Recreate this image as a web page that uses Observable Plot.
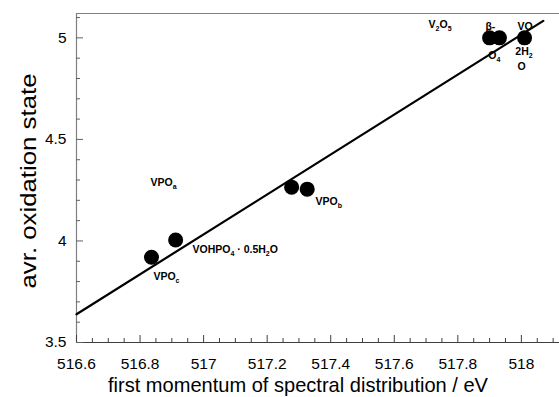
<!DOCTYPE html>
<html><head><meta charset="utf-8">
<script src="https://cdn.jsdelivr.net/npm/d3@7"></script>
<script src="https://cdn.jsdelivr.net/npm/@observablehq/plot@0.6"></script>
<style>
body{margin:0;background:#fff}
#chart svg{font-family:"Liberation Sans",Arial,sans-serif;background:#fff}
</style>
</head><body><div id="chart"></div>
<script>
// measured points
const pointX = [516.836, 516.912, 517.277, 517.326, 517.900, 517.931, 518.010];
const pointY = [3.92, 4.005, 4.265, 4.255, 5.0, 5.0, 5.0];
// linear fit line end points
const fitX = [516.6, 518.069];
const fitY = [3.639, 5.084];
// annotations
const labelText = ["V_2O_5", "β-", "O_4", "VO", "2H_2", "O", "VPO_a", "VPO_b", "VOHPO_4 · 0.5H_2O", "VPO_c"];
const labelX = [517.708, 517.887, 517.896, 517.988, 517.981, 517.988, 516.833, 517.352, 516.965, 516.842];
const labelY = [5.064, 5.054, 4.911, 5.054, 4.931, 4.856, 4.287, 4.193, 3.955, 3.822];
// axes
const xDomain = [516.6, 518.12];
const yDomain = [3.5, 5.12];
const xTicks = [516.6, 516.8, 517, 517.2, 517.4, 517.6, 517.8, 518];
const xMinor = [516.65,516.7,516.75,516.85,516.9,516.95,517.05,517.1,517.15,517.25,517.3,517.35,517.45,517.5,517.55,517.65,517.7,517.75,517.85,517.9,517.95,518.05,518.1];
const yTicks = [3.5, 4, 4.5, 5];
const yMinor = [3.6, 3.7, 3.8, 3.9, 4.1, 4.2, 4.3, 4.4, 4.6, 4.7, 4.8, 4.9, 5.1];
const xTitle = "first momentum of spectral distribution / eV";
const yTitle = "avr. oxidation state";

const W = 559, H = 397, mL = 76, mR = 0, mT = 13, mB = 55;
const pw = W - mL - mR, ph = H - mT - mB;

const points = pointX.map((x, i) => ({x, y: pointY[i]}));
const fit = fitX.map((x, i) => ({x, y: fitY[i]}));
const labels = labelText.map((t, i) => ({t, x: labelX[i], y: labelY[i]}));

const chart = Plot.plot({
  width: W, height: H,
  marginLeft: mL, marginRight: mR, marginTop: mT, marginBottom: mB,
  x: {domain: xDomain, axis: null},
  y: {domain: yDomain, axis: null},
  style: {fontFamily: "'Liberation Sans', Arial, sans-serif", color: "#000"},
  marks: [
    // frame: left, top, bottom
    Plot.ruleY([yDomain[1]], {stroke: "#808080", strokeWidth: 1.2}),
    Plot.ruleX([xDomain[0]], {stroke: "#808080", strokeWidth: 1.2}),
    Plot.ruleY([yDomain[0]], {stroke: "#404040", strokeWidth: 1.2}),
    // inward ticks
    Plot.tickX(xTicks, {x: d => d, insetTop: ph - 7, stroke: "#404040"}),
    Plot.tickX(xMinor, {x: d => d, insetTop: ph - 4, stroke: "#404040"}),
    Plot.tickY(yTicks, {y: d => d, insetRight: pw - 7, stroke: "#606060"}),
    Plot.tickY(yMinor, {y: d => d, insetRight: pw - 4, stroke: "#606060"}),
    // tick labels
    Plot.text(xTicks, {x: d => d, frameAnchor: "bottom", dy: 26, fontSize: 15.5, text: d => String(d), fill: "#000"}),
    Plot.text(yTicks, {y: d => d, frameAnchor: "left", dx: -10, textAnchor: "end", fontSize: 15.5, text: d => String(d), fill: "#000"}),
    // axis titles
    Plot.text([xTitle], {frameAnchor: "bottom", textAnchor: "middle", dy: 49, dx: -20, fontSize: 21, text: d => d, fill: "#000"}),
    Plot.text([yTitle], {frameAnchor: "left", textAnchor: "middle", rotate: -90, dx: -48, dy: 3, fontSize: 22, text: d => d, fill: "#000"}),
    // fit
    Plot.line(fit, {x: "x", y: "y", stroke: "#000", strokeWidth: 2.2}),
    // labels
    Plot.text(labels, {x: "x", y: "y", text: "t", textAnchor: "start", fontSize: 10.5, fontWeight: "bold", fill: "#000"}),
    // points
    Plot.dot(points, {x: "x", y: "y", r: 7.5, fill: "#000", stroke: "none"})
  ]
});

// convert "_x" into subscripts; fit title lengths
chart.querySelectorAll("text").forEach(el => {
  const s0 = el.textContent;
  if (s0 === xTitle) { el.setAttribute("textLength", 380); el.setAttribute("lengthAdjust", "spacingAndGlyphs"); }
  if (s0 === yTitle) { el.setAttribute("textLength", 215); el.setAttribute("lengthAdjust", "spacingAndGlyphs"); }
  if (el.querySelector("tspan")) return;
  const s = el.textContent;
  if (!s.includes("_")) return;
  el.textContent = "";
  const ns = "http://www.w3.org/2000/svg";
  const parts = s.split(/_(.)/);
  let shifted = false;
  parts.forEach((p, i) => {
    if (!p) return;
    const ts = document.createElementNS(ns, "tspan");
    ts.textContent = p;
    if (i % 2 === 1) {
      ts.setAttribute("font-size", "7");
      ts.setAttribute("dy", shifted ? "0" : "3");
      shifted = true;
    } else if (shifted) {
      ts.setAttribute("dy", "-3");
      shifted = false;
    }
    el.appendChild(ts);
  });
});

document.getElementById("chart").appendChild(chart);
</script>
</body></html>
